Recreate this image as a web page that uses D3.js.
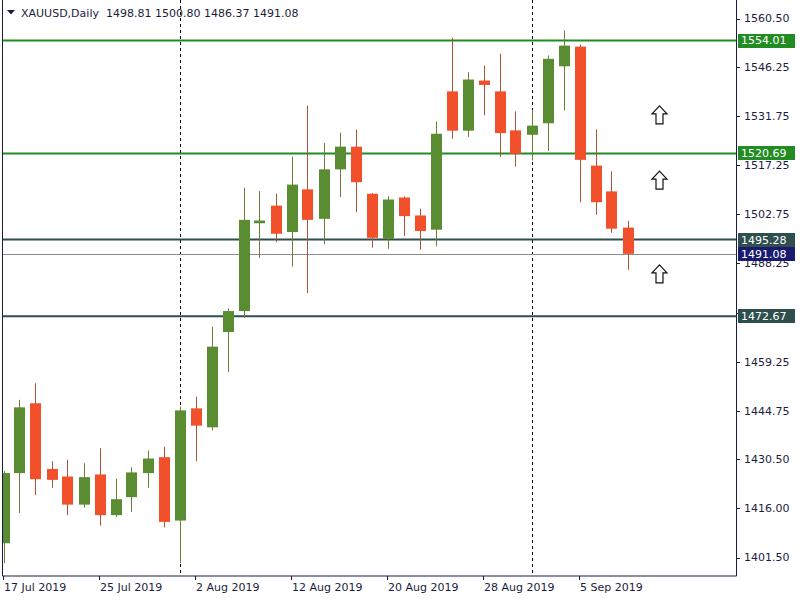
<!DOCTYPE html>
<html><head><meta charset="utf-8">
<script src="https://cdn.jsdelivr.net/npm/d3@7/dist/d3.min.js"></script>
<style>body{margin:0;background:#fff}svg{display:block}text{font-family:"DejaVu Sans",Verdana,sans-serif}</style>
</head><body><svg id="c" width="800" height="600"></svg>
<script>
const symbolTitle = "XAUUSD,Daily";
const headerOHLC = ["1498.81", "1500.80", "1486.37", "1491.08"];
const dates = ["17 Jul","18 Jul","19 Jul","22 Jul","23 Jul","24 Jul","25 Jul","26 Jul","29 Jul","30 Jul","31 Jul",
  "1 Aug","2 Aug","5 Aug","6 Aug","7 Aug","8 Aug","9 Aug","12 Aug","13 Aug","14 Aug","15 Aug","16 Aug",
  "19 Aug","20 Aug","21 Aug","22 Aug","23 Aug","26 Aug","27 Aug","28 Aug","29 Aug","30 Aug",
  "2 Sep","3 Sep","4 Sep","5 Sep","6 Sep","9 Sep","10 Sep"];
const opens  = [1405.7,1426.4,1447.0,1427.6,1425.4,1417.1,1426.0,1414.0,1419.3,1426.4,1431.1,1412.4,1445.5,1439.9,1468.0,1474.2,1500.1,1505.3,1497.5,1510.1,1501.4,1516.0,1522.7,1508.8,1495.5,1507.7,1502.4,1498.2,1539.0,1527.4,1542.2,1539.0,1527.5,1526.2,1529.6,1546.4,1552.2,1517.1,1509.5,1498.81];
const highs  = [1427.0,1448.0,1452.9,1429.9,1430.3,1429.3,1433.7,1424.8,1428.1,1433.1,1434.2,1446.0,1449.0,1469.6,1475.0,1510.6,1509.6,1508.8,1519.8,1534.8,1523.8,1526.8,1527.7,1509.0,1508.1,1508.0,1504.4,1530.1,1554.8,1544.7,1546.6,1550.1,1533.1,1533.5,1549.6,1557.0,1552.8,1527.8,1515.4,1500.80];
const lows   = [1399.8,1414.6,1419.9,1422.1,1414.0,1416.2,1410.9,1413.4,1415.0,1422.1,1410.4,1399.8,1429.9,1439.0,1456.2,1472.2,1489.9,1494.5,1487.3,1479.5,1494.0,1507.8,1503.4,1492.9,1492.6,1496.4,1492.3,1493.3,1525.0,1525.5,1531.9,1519.6,1516.8,1518.6,1521.4,1533.4,1506.3,1502.6,1497.3,1486.37];
const closes = [1426.4,1445.8,1424.6,1424.4,1417.1,1425.2,1414.0,1418.7,1426.6,1430.7,1412.0,1444.9,1440.4,1463.7,1474.2,1501.1,1500.9,1497.0,1511.5,1501.1,1516.0,1522.7,1512.2,1495.8,1507.1,1502.2,1497.8,1526.5,1527.4,1542.5,1540.9,1526.7,1520.6,1528.9,1548.6,1552.5,1518.8,1506.3,1498.5,1491.08];
const priceTicks = [1560.50,1546.25,1531.75,1517.25,1502.75,1488.25,1473.75,1459.25,1444.75,1430.50,1416.00,1401.50];
const dateTickLabels = ["17 Jul 2019","25 Jul 2019","2 Aug 2019","12 Aug 2019","20 Aug 2019","28 Aug 2019","5 Sep 2019"];
const levelPrices = [1554.01, 1520.69, 1495.28, 1472.67];
const levelKinds  = ["green","green","slate","slate"];
const bidPrice = 1491.08;
const separatorBars = [11, 33];
const arrowPrices = [1534.7, 1515.5, 1487.8];
const arrowBar = 41;

const svg = d3.select("#c");
const L = 3, R = 736.5, T = 0, B = 576;
const x = d3.scaleLinear().domain([0, 39]).range([3.5, 627.5]);
const y = d3.scaleLinear().domain([1401.5, 1560.5]).range([557.5, 18.5]);
const colors = {green:"#228b22", slate:"#2f4f4f"};
const upC = "#5a8c32", dnC = "#f2502a", upW = "#6e7a3c", dnW = "#a8543a";

svg.append("rect").attr("width",800).attr("height",600).attr("fill","#fff");
svg.append("defs").append("clipPath").attr("id","clip").append("rect")
  .attr("x",L).attr("y",T).attr("width",R-L).attr("height",B-T);
const plot = svg.append("g").attr("clip-path","url(#clip)");

// separators
plot.selectAll("line.sep").data(separatorBars).join("line").attr("class","sep")
  .attr("x1",d=>Math.round(x(d))+0.5).attr("x2",d=>Math.round(x(d))+0.5).attr("y1",T).attr("y2",B)
  .attr("stroke","#000").attr("stroke-dasharray","3,3").attr("stroke-width",1);

// levels
plot.selectAll("line.lvl").data(levelPrices).join("line").attr("class","lvl")
  .attr("x1",L).attr("x2",R).attr("y1",d=>y(d)).attr("y2",d=>y(d))
  .attr("stroke",(d,i)=>colors[levelKinds[i]]).attr("stroke-width",2);
plot.append("line").attr("x1",L).attr("x2",R).attr("y1",Math.round(y(bidPrice))+0.5).attr("y2",Math.round(y(bidPrice))+0.5)
  .attr("stroke","#8c8c8c").attr("stroke-width",1);

// candles
const idx = d3.range(opens.length);
const g = plot.append("g");
g.selectAll("line.w").data(idx).join("line").attr("class","w")
  .attr("x1",i=>Math.round(x(i))+0.5).attr("x2",i=>Math.round(x(i))+0.5)
  .attr("y1",i=>y(highs[i])).attr("y2",i=>y(lows[i]))
  .attr("stroke",i=>closes[i]>=opens[i]?upW:dnW).attr("stroke-width",1);
g.selectAll("rect.b").data(idx).join("rect").attr("class","b")
  .attr("x",i=>Math.round(x(i))-5).attr("width",11)
  .attr("y",i=>y(Math.max(opens[i],closes[i])))
  .attr("height",i=>Math.max(2,Math.abs(y(opens[i])-y(closes[i]))))
  .attr("fill",i=>closes[i]>=opens[i]?upC:dnC);

// arrows
const ag = plot.append("g");
arrowPrices.forEach(p=>{
  const cx = x(arrowBar), t = y(p);
  ag.append("path").attr("d",`M${cx},${t} L${cx+7.5},${t+8} L${cx+3.5},${t+8} L${cx+3.5},${t+18} L${cx-3.5},${t+18} L${cx-3.5},${t+8} L${cx-7.5},${t+8} Z`)
    .attr("fill","#fff").attr("stroke","#111").attr("stroke-width",1.2).attr("stroke-linejoin","miter");
});

// frame
svg.append("line").attr("x1",2.5).attr("x2",2.5).attr("y1",0).attr("y2",B).attr("stroke","#1c1c3c");
svg.append("line").attr("x1",R).attr("x2",R).attr("y1",0).attr("y2",B).attr("stroke","#1c1c3c");
svg.append("line").attr("x1",2.5).attr("x2",R).attr("y1",B).attr("y2",B).attr("stroke","#1c1c3c");

// right axis
const ax = svg.append("g");
ax.selectAll("line").data(priceTicks).join("line")
  .attr("x1",R).attr("x2",R+3.5).attr("y1",d=>Math.round(y(d))+0.5).attr("y2",d=>Math.round(y(d))+0.5).attr("stroke","#1c1c3c");
ax.selectAll("text").data(priceTicks).join("text")
  .attr("x",744).attr("y",d=>y(d)).attr("dy","0.36em").attr("font-size",11).attr("fill","#1c1c40")
  .text(d=>d.toFixed(2));

// level labels
const lb = svg.append("g");
const allLabels = levelPrices.map((p,i)=>({p, c:colors[levelKinds[i]]})).concat([{p:bidPrice, c:"#1a1a6e"}]);
allLabels.forEach(o=>{
  const yy = y(o.p);
  lb.append("rect").attr("x",738).attr("y",Math.round(yy)-7).attr("width",57).attr("height",14).attr("fill",o.c);
  lb.append("text").attr("x",741).attr("y",yy).attr("dy","0.36em").attr("font-size",11).attr("fill","#fff").text(o.p.toFixed(2));
});

// bottom axis
const bx = svg.append("g");
dateTickLabels.forEach(lbl=>{
  const b = dates.indexOf(lbl.replace(/ \d{4}$/,""));
  const xx = Math.round(x(b))-0.5;
  bx.append("line").attr("x1",xx).attr("x2",xx).attr("y1",B).attr("y2",B+4).attr("stroke","#1c1c3c");
  bx.append("text").attr("x",xx+0.5).attr("y",591).attr("font-size",11).attr("fill","#1c1c40").text(lbl);
});

// header
svg.append("path").attr("d","M7,10 L15,10 L11,14.5 Z").attr("fill","#1c1c40");
svg.append("text").attr("x",21).attr("y",17).attr("font-size",11).attr("fill","#1c1c40")
  .text(symbolTitle + "  " + headerOHLC.join(" ")).attr("xml:space","preserve").style("white-space","pre");
</script></body></html>
